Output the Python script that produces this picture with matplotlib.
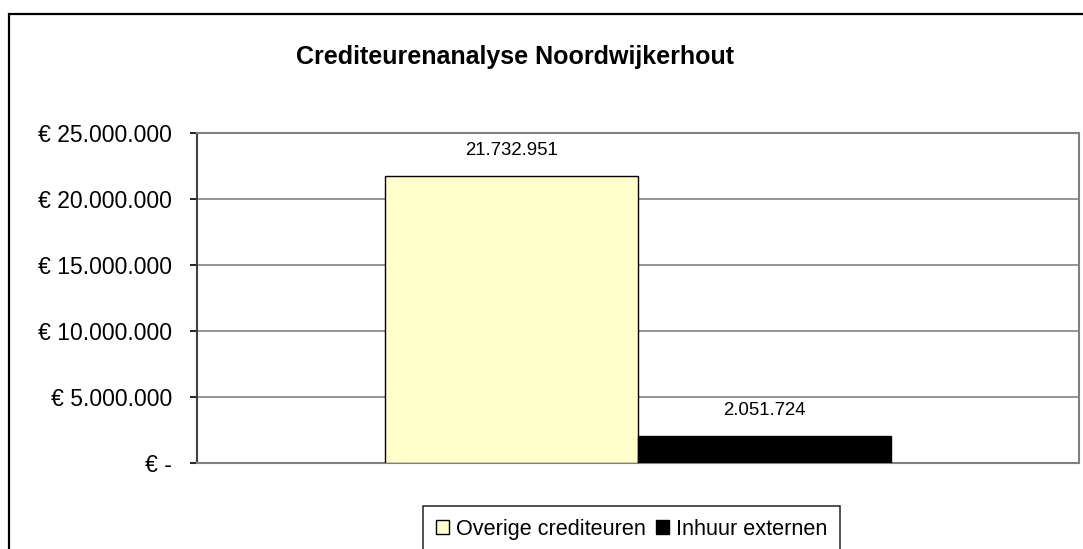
import matplotlib
matplotlib.use('Agg')
import matplotlib.pyplot as plt
from matplotlib.patches import Rectangle
from matplotlib.ticker import FuncFormatter

plt.rcParams['font.family'] = ['Liberation Sans', 'DejaVu Sans']

# data
series = ['Overige crediteuren', 'Inhuur externen']
values = [21732951, 2051724]
labels = ['21.732.951', '2.051.724']
colors = ['#FFFFCC', '#000000']
title = 'Crediteurenanalyse Noordwijkerhout'

W, H = 1083, 549
fig = plt.figure(figsize=(W / 100, H / 100), dpi=100)

# outer chart frame (cut off on right and bottom)
fig.patches.append(Rectangle((9 / W, -0.1), 1.2, 1 - 14 / H + 0.1,
                             transform=fig.transFigure, fill=False,
                             edgecolor='black', linewidth=1.6))

ax = fig.add_axes([197 / W, 1 - 463 / H, 882 / W, 330 / H])

width = 0.287
xs = [-width / 2, width / 2]
bars = []
for x, v, c, s in zip(xs, values, colors, series):
    b = ax.bar(x, v, width, color=c, edgecolor='black', linewidth=1.0,
               label=s, zorder=3)
    bars.append(b)

for x, v, lab in zip(xs, values, labels):
    ax.annotate(lab, (x, v), xytext=(0, 18.5), textcoords='offset points',
                ha='center', va='center', fontsize=13.4)

ax.set_xlim(-0.5, 0.5)
ax.set_ylim(0, 25000000)
ax.set_yticks(range(0, 25000001, 5000000))
ax.set_xticks([])


def euro(v, pos):
    if v == 0:
        return '€ -'
    return '€ ' + f'{int(v):,}'.replace(',', '.')


ax.yaxis.set_major_formatter(FuncFormatter(euro))
ax.tick_params(axis='y', length=5, width=1.2, pad=13, labelsize=16.5,
               color='black')
ax.grid(axis='y', color='#808080', linewidth=1.2, zorder=0)
for sp in ax.spines.values():
    sp.set_color('#808080')
    sp.set_linewidth(1.5)
ax.spines['left'].set_color('#404040')

fig.text(515 / W, 1 - 57 / H, title, ha='center', va='center',
         fontsize=18, fontweight='bold')

leg = fig.legend(handles=[b[0] for b in bars], labels=series,
                 loc='upper left', bbox_to_anchor=(423 / W, 1 - 506 / H),
                 ncol=2, fontsize=15.6, frameon=True, fancybox=False,
                 handlelength=0.6, handleheight=0.6, handletextpad=0.3,
                 columnspacing=0.5, borderpad=0.6, borderaxespad=0)
leg.get_frame().set_edgecolor('black')
leg.get_frame().set_linewidth(1.2)

fig.savefig('out.png', dpi=100)
